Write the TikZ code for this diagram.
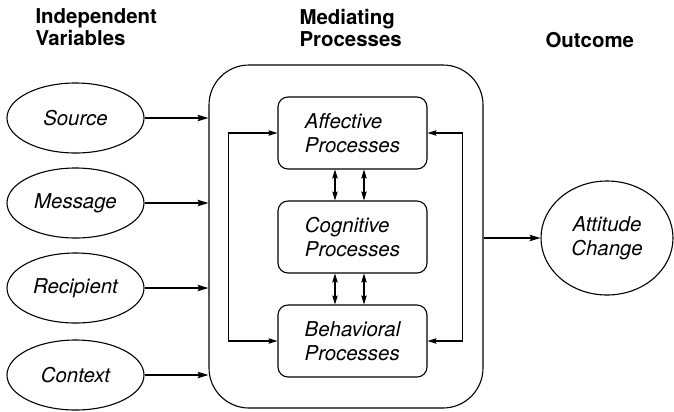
\documentclass[tikz,border=0pt]{standalone}
\usepackage{fontspec}
\setmainfont{TeX Gyre Heros}
\usetikzlibrary{shapes.geometric,arrows.meta}

\begin{document}
\begin{tikzpicture}[x=1bp,y=-1bp,
  line width=1.1bp,
  txt/.style={font=\fontsize{20.5}{24}\selectfont\itshape},
  hdr/.style={font=\fontsize{20.5}{22}\selectfont\bfseries, align=left, inner sep=0pt},
  var/.style={draw, ellipse, txt, minimum width=137bp, minimum height=70bp, inner sep=0pt},
  proc/.style={draw, txt, rounded corners=10bp, minimum width=149bp, minimum height=72bp, align=left, inner sep=0pt},
  arr/.style={-{Stealth[length=11bp,width=6.5bp,inset=2bp]}},
  dbl/.style={{Stealth[length=9bp,width=5.5bp,inset=1.5bp]}-{Stealth[length=9bp,width=5.5bp,inset=1.5bp]}},
]
\useasboundingbox (0,0) rectangle (674,411);

% column headings
\node[hdr, anchor=north west] (hiv) at (35,8) {Independent\\Variables};
\node[hdr, anchor=north west] (hmp) at (299,9) {Mediating\\Processes};
\node[hdr, anchor=base west] (hout) at (545,47) {Outcome};

% independent variables
\node[var] (src) at (75.5,118) {Source};
\node[var] (msg) at (75.5,203) {Message};
\node[var] (rcp) at (75.5,288) {Recipient};
\node[var] (ctx) at (75.5,375) {Context};

% mediating processes
\node[draw, rounded corners=40bp, minimum width=274bp, minimum height=343bp, inner sep=0pt] (med) at (346,236.5) {};
\node[proc] (aff) at (352.5,133) {Affective\\Processes};
\node[proc] (cog) at (352.5,237) {Cognitive\\Processes};
\node[proc] (beh) at (352.5,341) {Behavioral\\Processes};

% outcome
\node[draw, ellipse, txt, align=center, minimum width=132bp, minimum height=114bp, inner sep=0pt] (att) at (607,238) {Attitude\\Change};

% inputs
\foreach \v in {src,msg,rcp,ctx}
  \draw[arr] (\v.east) -- (\v.east -| med.west);

% links between processes
\foreach \px in {335,364} {
  \draw[dbl] (aff.south -| \px,0) -- (cog.north -| \px,0);
  \draw[dbl] (cog.south -| \px,0) -- (beh.north -| \px,0);
}

% feedback loops
\draw[dbl] (aff.west) -- ++(-49,0) |- (beh.west);
\draw[dbl] (aff.east) -- ++(35,0) |- (beh.east);

% output
\draw[arr] (med.east |- att.west) -- (att.west);
\end{tikzpicture}
\end{document}
